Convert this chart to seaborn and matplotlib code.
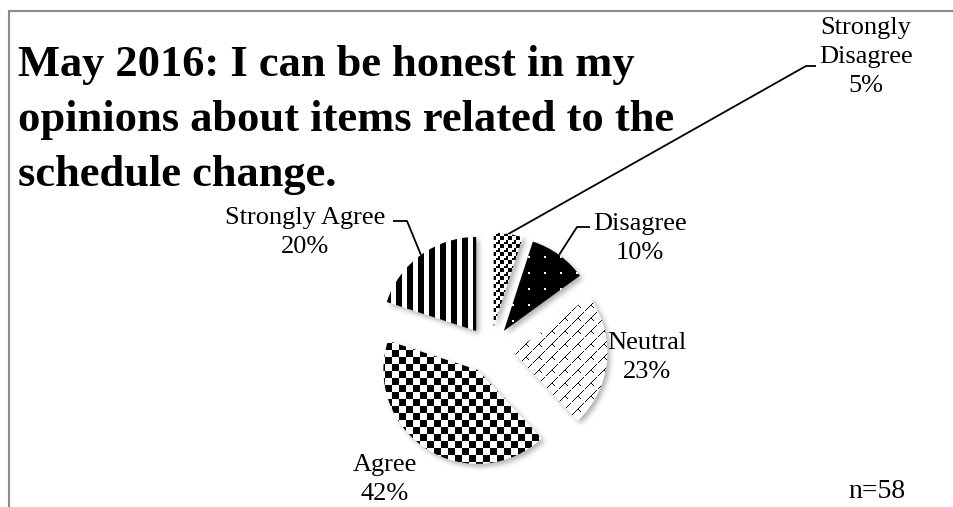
import numpy as np
import matplotlib
matplotlib.use("Agg")
import matplotlib.pyplot as plt
import seaborn as sns

# Survey responses (percent of respondents)
categories = ["Strongly Disagree", "Disagree", "Neutral", "Agree", "Strongly Agree"]
shares = [5, 10, 23, 42, 20]
label_names = [["Strongly", "Disagree"], ["Disagree"], ["Neutral"], ["Agree"], ["Strongly Agree"]]
title_lines = ["May 2016: I can be honest in my",
               "opinions about items related to the",
               "schedule change."]
sample_note = "n=58"

W, H = 954, 507

sns.set_theme(style="white")
plt.rcParams["font.family"] = ["Liberation Serif", "DejaVu Serif"]

fig = plt.figure(figsize=(W / 100, H / 100), dpi=100)
fig.patch.set_facecolor("white")
ax = fig.add_axes([0, 0, 1, 1])


def top(y):
    """Convert a distance from the top edge into axes y."""
    return H - y


# ---- pie geometry ----
center = (490, top(350))
radius = 94
offset = 23.5

wedges, _ = ax.pie(shares, explode=[offset] * len(shares), startangle=90,
                   counterclock=False, center=center, radius=radius,
                   wedgeprops=dict(facecolor="none", edgecolor="none"))
ax.set_xlim(0, W)
ax.set_ylim(0, H)
ax.set_aspect("auto")
ax.axis("off")

# ---- fill textures ----
yy, xx = np.mgrid[0:H, 0:W]


def tile_pattern(rows):
    t = np.array([[c == "#" for c in r] for r in rows])
    th, tw = t.shape
    return t[yy % th, xx % tw]


shingle = tile_pattern([
    "...........#.",
    "..........#..",
    ".........#...",
    "........#....",
    ".......#.....",
    "......#......",
    ".....##......",
    "....#..#.....",
    "...#....#....",
    "..#..........",
    ".#...........",
    "#............",
    ".............",
])

patterns = [
    ((xx // 4 + yy // 4) % 2 == 0) ^ (((xx % 8) < 2) & ((yy % 8) < 2)),  # small check
    ~(((xx % 16) < 2) & ((yy % 16) < 2)),                                   # dotted black
    shingle,                                                                # shingle
    ((xx // 7 + yy // 7) % 2 == 0),                                         # large check
    (xx % 11) < 6,                                                          # vertical stripes
]

# soft drop shadow below the slices
px = np.column_stack([(xx + 0.5).ravel(), (H - (yy + 0.5)).ravel()])
mask = np.zeros((H, W))
for w in wedges:
    path = w.get_transform().transform_path(w.get_path())
    mask = np.maximum(mask, path.contains_points(px).reshape(H, W).astype(float))
mask = np.roll(np.roll(mask, 3, axis=0), 3, axis=1)


def box_blur(a, r):
    for axis in (0, 1):
        pad = [(0, 0), (0, 0)]
        pad[axis] = (r + 1, r)
        c = np.cumsum(np.pad(a, pad, mode="edge"), axis=axis)
        if axis == 0:
            a = (c[2 * r + 1:, :] - c[:-2 * r - 1, :]) / (2 * r + 1)
        else:
            a = (c[:, 2 * r + 1:] - c[:, :-2 * r - 1]) / (2 * r + 1)
    return a


for _ in range(3):
    mask = box_blur(mask, 2)
shadow = np.zeros((H, W, 4))
shadow[..., :3] = 0.35
shadow[..., 3] = mask * 0.45
ax.imshow(shadow, extent=(0, W, 0, H), origin="upper", interpolation="nearest", zorder=1)

for w, pat in zip(wedges, patterns):
    rgb = np.where(pat[..., None], 0.0, 1.0) * np.ones(3)
    im = ax.imshow(rgb, extent=(0, W, 0, H), origin="upper",
                   interpolation="nearest", zorder=2)
    im.set_clip_path(w)

ax.set_xlim(0, W)
ax.set_ylim(0, H)
ax.set_aspect("auto")


def arc_mid(w):
    t = np.deg2rad((w.theta1 + w.theta2) / 2)
    cx, cy = w.center
    return cx + w.r * np.cos(t), cy + w.r * np.sin(t)


# ---- labels ----
lab_fs = 19
label_pos = [(866, 28), (640, 224), (647, 343), (385, 465), (305, 218)]
line_gap = 29
for names, v, (lx, ly) in zip(label_names, shares, label_pos):
    lines = names + [f"{v}%"]
    for k, s in enumerate(lines):
        ax.text(lx, top(ly + k * line_gap), s, ha="center", va="center",
                fontsize=lab_fs, color="black", zorder=5)

# leader lines: slice -> elbow -> short stub beside the label
leaders = {0: [(806, 66), (816, 66)], 1: [(577, 227), (590, 227)], 4: [(407, 221), (393, 221)]}
for i, pts in leaders.items():
    x0, y0 = arc_mid(wedges[i])
    xs = [x0] + [p[0] for p in pts]
    ys = [y0] + [top(p[1]) for p in pts]
    ax.plot(xs, ys, color="black", lw=1.3, zorder=4, solid_capstyle="butt")

# ---- title ----
for k, s in enumerate(title_lines):
    ax.text(18, top(76 + 55 * k), s, ha="left", va="baseline",
            fontsize=32, fontweight="bold", color="black", zorder=5)

ax.text(877, top(492), sample_note, ha="center", va="center", fontsize=20,
        color="black", zorder=5)

# chart frame (top and left edges)
ax.plot([9, W + 5], [top(11), top(11)], color="#8a8a8a", lw=1.5, zorder=6, clip_on=False)
ax.plot([9, 9], [top(11), -5], color="#8a8a8a", lw=1.5, zorder=6, clip_on=False)

fig.savefig("out.png", dpi=100, facecolor="white")
